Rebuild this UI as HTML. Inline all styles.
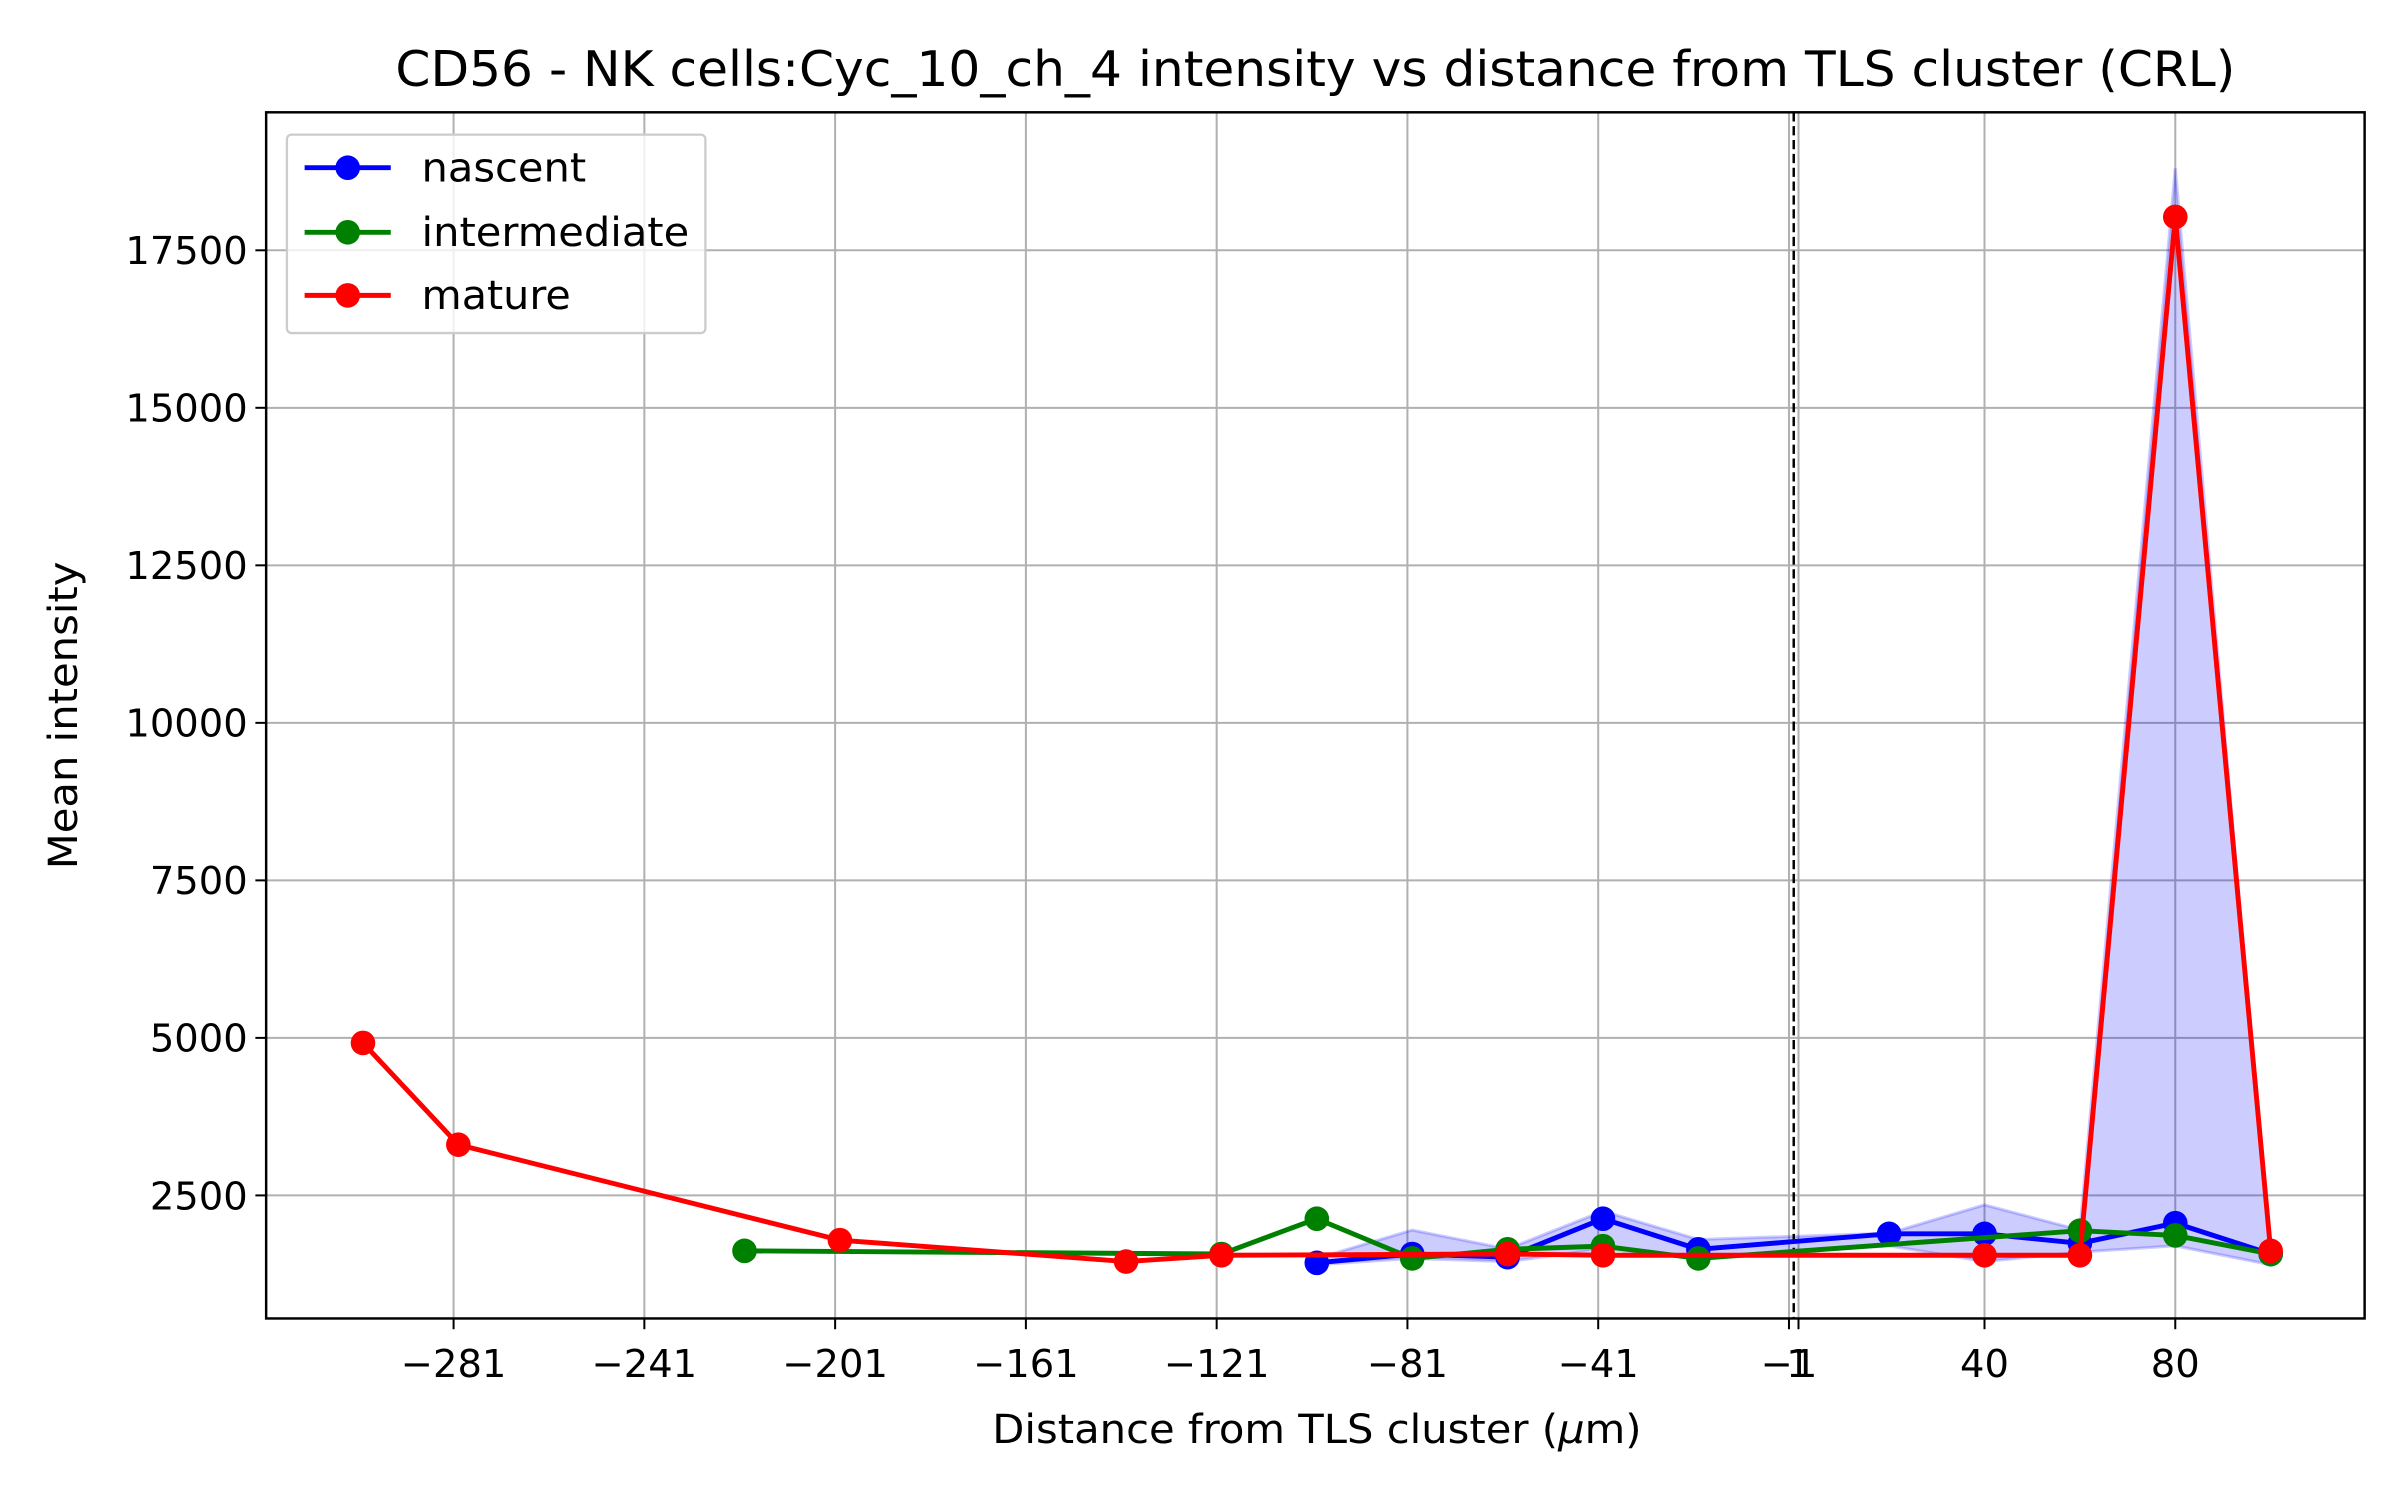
<!DOCTYPE html>
<html><head><meta charset="utf-8"><style>
html,body{margin:0;padding:0;background:#fff;}
svg{display:block;font-family:"DejaVu Sans","Liberation Sans",sans-serif;}
</style></head><body>
<svg id="chart" width="2400" height="1500" viewBox="0 0 1560 975" xmlns="http://www.w3.org/2000/svg">
<rect width="1560" height="975" fill="#fff"/>
<g id="grid"></g>
<g id="bands"></g>
<g id="zero"></g>
<g id="series"></g>
<rect x="173" y="73" width="1364" height="784" fill="none" stroke="#000" stroke-width="1.6"/>
<g id="axes"></g>
<text x="855" y="56" font-size="32" text-anchor="middle" textLength="1196" lengthAdjust="spacingAndGlyphs">CD56 - NK cells:Cyc_10_ch_4 intensity vs distance from TLS cluster (CRL)</text>
<text x="856" y="938" font-size="26" text-anchor="middle" textLength="422" lengthAdjust="spacingAndGlyphs">Distance from TLS cluster (<tspan font-style="italic">μ</tspan>m)</text>
<text transform="translate(50,465) rotate(-90)" font-size="26" text-anchor="middle" textLength="200" lengthAdjust="spacingAndGlyphs">Mean intensity</text>
<g>
<rect x="186.5" y="87.5" width="272" height="129" rx="3" fill="#fff" fill-opacity="0.8" stroke="#ccc" stroke-width="1.5"/>
<g><line x1="198" y1="109" x2="254" y2="109" stroke="#0000ff" stroke-width="3.2"/><circle cx="226" cy="109" r="8" fill="#0000ff"/><text x="274" y="118" font-size="26" textLength="107" lengthAdjust="spacingAndGlyphs">nascent</text></g>
<g><line x1="198" y1="151" x2="254" y2="151" stroke="#008000" stroke-width="3.2"/><circle cx="226" cy="151" r="8" fill="#008000"/><text x="274" y="160" font-size="26" textLength="174" lengthAdjust="spacingAndGlyphs">intermediate</text></g>
<g><line x1="198" y1="192" x2="254" y2="192" stroke="#ff0000" stroke-width="3.2"/><circle cx="226" cy="192" r="8" fill="#ff0000"/><text x="274" y="201" font-size="26" textLength="97" lengthAdjust="spacingAndGlyphs">mature</text></g>
</g>
</svg>
<script>
const xTickValues = [-281, -241, -201, -161, -121, -81, -41, -1, 1, 40, 80];
const yTickValues = [2500, 5000, 7500, 10000, 12500, 15000, 17500];
const nascentX = [-100, -80, -60, -40, -20, 20, 40, 60, 80, 100];
const nascentY = [1430, 1570, 1520, 2130, 1645, 1890, 1890, 1740, 2060, 1570];
const nascentLower = [1400, 1500, 1450, 1650, 1500, 1700, 1450, 1600, 1700, 1400];
const nascentUpper = [1500, 1950, 1650, 2250, 1800, 1900, 2350, 1950, 18800, 1500];
const interX = [-220, -120, -100, -80, -60, -40, -20, 60, 80, 100];
const interY = [1620, 1570, 2130, 1500, 1645, 1695, 1500, 1940, 1865, 1570];
const matureX = [-300, -280, -200, -140, -120, -60, -40, 40, 60, 80, 100];
const matureY = [4920, 3305, 1790, 1450, 1550, 1570, 1550, 1550, 1550, 18030, 1620];

const L = 173, R = 1537, T = 73, B = 857;
const xMin = -320.3, xMax = 119.7, yMin = 547, yMax = 19690;
const sx = v => L + (v - xMin) / (xMax - xMin) * (R - L);
const sy = v => B - (v - yMin) / (yMax - yMin) * (B - T);
const NS = 'http://www.w3.org/2000/svg';
function mk(tag, attrs, parent) {
  const e = document.createElementNS(NS, tag);
  for (const k in attrs) e.setAttribute(k, attrs[k]);
  parent.appendChild(e);
  return e;
}
const grid = document.getElementById('grid'), axes = document.getElementById('axes');
xTickValues.forEach(v => {
  const x = sx(v);
  const g = mk('line', {x1: x, x2: x, y1: T, y2: B, stroke: '#b0b0b0', 'stroke-width': 1.3}, grid);
  
  
  const t = mk('line', {x1: x, x2: x, y1: B, y2: B + 7, stroke: '#000', 'stroke-width': 1.3}, axes);
  
  
  const lb = mk('text', {x: x, y: B + 38, 'font-size': 25, 'text-anchor': 'middle'}, axes);
  lb.textContent = v < 0 ? '\u2212' + Math.abs(v) : String(v);
  
  
});
yTickValues.forEach(v => {
  const y = sy(v);
  const g = mk('line', {x1: L, x2: R, y1: y, y2: y, stroke: '#b0b0b0', 'stroke-width': 1.3}, grid);
  
  
  const t = mk('line', {x1: L - 7, x2: L, y1: y, y2: y, stroke: '#000', 'stroke-width': 1.3}, axes);
  
  
  const lb = mk('text', {x: L - 12, y: y + 9, 'font-size': 25, 'text-anchor': 'end'}, axes);
  lb.textContent = String(v);
  
  
});
const z = mk('line', {x1: sx(0), x2: sx(0), y1: T, y2: B, stroke: '#000', 'stroke-width': 1.6, 'stroke-dasharray': '6,3'}, document.getElementById('zero'));


const bands = document.getElementById('bands');
let pts = nascentX.map((x, i) => sx(x) + ',' + sy(nascentUpper[i]));
pts = pts.concat(nascentX.map((x, i) => sx(x) + ',' + sy(nascentLower[i])).reverse());
const band = mk('polygon', {points: pts.join(' '), fill: '#0000ff', 'fill-opacity': 0.2, stroke: '#0000ff', 'stroke-opacity': 0.2, 'stroke-width': 2}, bands);


const series = document.getElementById('series');
function drawSeries(xs, ys, color, name) {
  const g = mk('g', {}, series);
  
  
  const pl = mk('polyline', {points: xs.map((x, i) => sx(x) + ',' + sy(ys[i])).join(' '), fill: 'none', stroke: color, 'stroke-width': 3.2, 'stroke-linejoin': 'round'}, g);
  
  
  xs.forEach((x, i) => {
    const c = mk('circle', {cx: sx(x), cy: sy(ys[i]), r: 8, fill: color}, g);
    
    
  });
}
drawSeries(nascentX, nascentY, '#0000ff', 'nascent');
drawSeries(interX, interY, '#008000', 'intermediate');
drawSeries(matureX, matureY, '#ff0000', 'mature');
</script>
</body></html>
